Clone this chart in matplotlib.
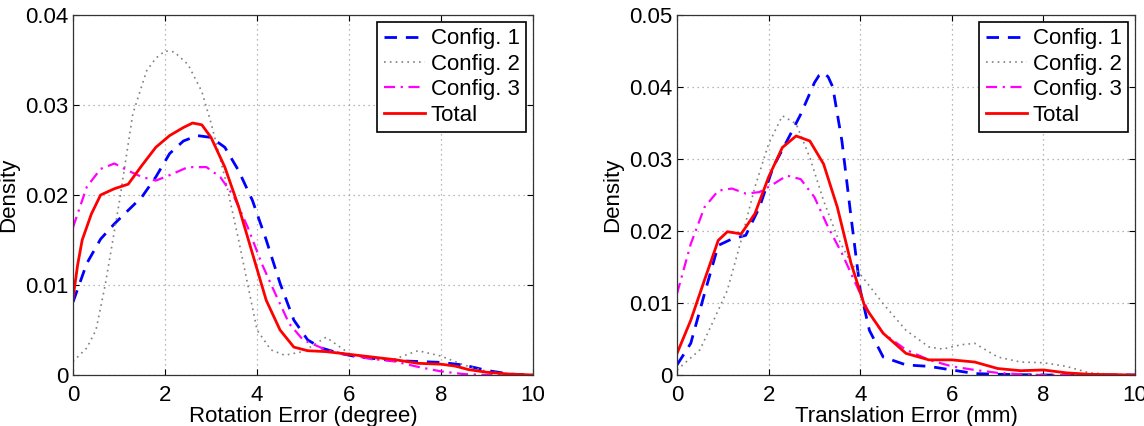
import numpy as np
import matplotlib
matplotlib.use("Agg")
import matplotlib.pyplot as plt

plt.rcParams['font.family'] = ['Liberation Sans', 'DejaVu Sans']

# ---- rotation error densities (left panel) ----
rot_x1 = [0, 0.3, 0.6, 0.9, 1.2, 1.5, 1.8, 2.1, 2.4, 2.7, 3.0, 3.3, 3.6, 3.9, 4.2, 4.5, 4.8, 5.1, 5.4, 5.8, 6.2, 7.0, 7.5, 8.0, 8.5, 9.0, 9.5, 10]
rot_c1 = [0.0081, 0.0124, 0.0151, 0.0168, 0.0183, 0.0198, 0.0220, 0.0246, 0.0260, 0.0266, 0.0264, 0.0253, 0.0227, 0.0194, 0.0150, 0.0102, 0.0061, 0.0039, 0.0030, 0.0024, 0.0020, 0.0016, 0.0015, 0.0014, 0.0011, 0.0005, 0.0001, 0]

rot_x2 = [0, 0.3, 0.5, 0.7, 1.0, 1.3, 1.6, 1.8, 2.0, 2.2, 2.5, 2.8, 3.0, 3.3, 3.6, 4.0, 4.3, 4.6, 5.0, 5.5, 6.0, 6.5, 7.0, 7.5, 8.0, 8.5, 9.0, 9.5, 10]
rot_c2 = [0.0015, 0.0030, 0.0050, 0.0100, 0.0190, 0.0290, 0.0338, 0.0352, 0.0360, 0.0359, 0.0345, 0.0315, 0.0280, 0.0220, 0.0150, 0.0050, 0.0028, 0.0022, 0.0026, 0.0042, 0.0024, 0.0017, 0.0018, 0.0027, 0.0021, 0.0011, 0.0004, 0.0001, 0]

rot_x3 = [0, 0.3, 0.6, 0.9, 1.2, 1.5, 1.8, 2.1, 2.5, 2.9, 3.2, 3.5, 3.8, 4.1, 4.4, 4.7, 5.0, 5.5, 6.0, 6.5, 7.0, 7.5, 8.0, 8.5, 9.0, 10]
rot_c3 = [0.0164, 0.0209, 0.0229, 0.0235, 0.0227, 0.0220, 0.0216, 0.0222, 0.0231, 0.0231, 0.0220, 0.0198, 0.0164, 0.0124, 0.0090, 0.0057, 0.0039, 0.0028, 0.0022, 0.0018, 0.0015, 0.0009, 0.0004, 0.0001, 0, 0]

rot_xt = [0, 0.1, 0.2, 0.4, 0.6, 0.9, 1.2, 1.5, 1.8, 2.1, 2.4, 2.6, 2.8, 3.0, 3.3, 3.6, 3.9, 4.2, 4.5, 4.8, 5.1, 5.5, 6.0, 6.5, 7.0, 7.5, 8.0, 8.3, 8.6, 9.0, 9.5, 10]
rot_tot = [0.0085, 0.0122, 0.0150, 0.0179, 0.0200, 0.0207, 0.0212, 0.0233, 0.0253, 0.0266, 0.0275, 0.0280, 0.0278, 0.0264, 0.0231, 0.0187, 0.0135, 0.0083, 0.0050, 0.0031, 0.0027, 0.0026, 0.0023, 0.0020, 0.0017, 0.0013, 0.0012, 0.0010, 0.0006, 0.0003, 0.0001, 0]

# ---- translation error densities (right panel) ----
tr_x1 = [0, 0.3, 0.6, 0.9, 1.2, 1.5, 1.8, 2.1, 2.4, 2.7, 3.0, 3.1, 3.2, 3.3, 3.4, 3.6, 3.8, 4.0, 4.2, 4.5, 5.0, 5.5, 6.0, 6.5, 7.0, 8.0, 10]
tr_c1 = [0.0014, 0.0044, 0.0113, 0.0180, 0.0189, 0.0194, 0.0233, 0.0289, 0.0325, 0.0362, 0.0406, 0.0416, 0.0420, 0.0414, 0.0400, 0.0325, 0.0219, 0.0118, 0.0062, 0.0025, 0.0014, 0.0012, 0.0007, 0.0002, 0.0001, 0, 0]

tr_x2 = [0, 0.5, 0.8, 1.1, 1.4, 1.7, 2.0, 2.3, 2.6, 2.9, 3.2, 3.5, 3.8, 4.1, 4.5, 5.0, 5.5, 5.8, 6.2, 6.5, 7.0, 7.5, 8.0, 8.5, 9.0, 9.5, 10]
tr_c2 = [0.0007, 0.0035, 0.0076, 0.0118, 0.0187, 0.0261, 0.0321, 0.0360, 0.0349, 0.0302, 0.0242, 0.0192, 0.0155, 0.0132, 0.0099, 0.0062, 0.0039, 0.0036, 0.0042, 0.0044, 0.0025, 0.0018, 0.0017, 0.0012, 0.0003, 0.0001, 0]

tr_x3 = [0, 0.3, 0.6, 0.9, 1.2, 1.5, 1.8, 2.1, 2.4, 2.7, 3.0, 3.3, 3.6, 3.9, 4.2, 4.5, 5.0, 5.5, 6.0, 6.5, 7.0, 7.5, 8.0, 10]
tr_c3 = [0.0113, 0.0182, 0.0233, 0.0256, 0.0259, 0.0252, 0.0254, 0.0265, 0.0277, 0.0272, 0.0247, 0.0205, 0.0169, 0.0127, 0.0085, 0.0058, 0.0035, 0.0021, 0.0012, 0.0007, 0.0003, 0.0001, 0, 0]

tr_xt = [0, 0.3, 0.6, 0.9, 1.1, 1.4, 1.7, 2.0, 2.3, 2.6, 2.9, 3.2, 3.5, 3.8, 4.1, 4.5, 5.0, 5.5, 6.0, 6.5, 7.0, 7.5, 8.0, 8.5, 9.0, 10]
tr_tot = [0.0030, 0.0076, 0.0132, 0.0187, 0.0199, 0.0196, 0.0224, 0.0275, 0.0316, 0.0332, 0.0325, 0.0293, 0.0233, 0.0155, 0.0095, 0.0058, 0.0030, 0.0021, 0.0021, 0.0018, 0.0009, 0.0006, 0.0007, 0.0003, 0.0001, 0]

labels = ['Config. 1', 'Config. 2', 'Config. 3', 'Total']
xticks = [0, 2, 4, 6, 8, 10]

fig = plt.figure(figsize=(11.44, 4.26), dpi=100)
ax1 = fig.add_axes([0.0638, 0.1197, 0.4022, 0.8451])
ax2 = fig.add_axes([0.5918, 0.1197, 0.4004, 0.8451])


def draw(ax, series, ymax, xlabel):
    (x1, c1), (x2, c2), (x3, c3), (xt, tot) = series
    ax.plot(x1, c1, color='#0000ff', ls=(0, (4.5, 3.2)), lw=2.0, label=labels[0])
    ax.plot(x2, c2, color='#808080', ls=(0, (1, 2.5)), lw=1.2, label=labels[1])
    ax.plot(x3, c3, color='#ff00ff', ls=(0, (5, 2.5, 1, 2.5)), lw=1.6, label=labels[2])
    ax.plot(xt, tot, color='#ff0000', ls='-', lw=2.0, label=labels[3])
    ax.set_xlim(0, 10)
    ax.set_ylim(0, ymax)
    ax.set_xticks(xticks)
    ax.set_yticks(np.arange(0, ymax + 1e-9, 0.01))
    ax.set_yticklabels(['0'] + ['%.2f' % v for v in np.arange(0.01, ymax + 1e-9, 0.01)])
    ax.grid(True, color='#a0a0a0', ls=(0, (1, 3)), lw=0.9)
    ax.tick_params(direction='in', labelsize=16, length=4, top=True, right=True)
    ax.tick_params(axis='x', pad=7)
    ax.tick_params(axis='y', pad=3.5)
    for s in ax.spines.values():
        s.set_linewidth(0.9)
        s.set_color('#333333')
    ax.set_xlabel(xlabel, fontsize=16, labelpad=0)
    ax.set_ylabel('Density', fontsize=16, labelpad=4)
    leg = ax.legend(loc='upper right', fontsize=16, fancybox=False, framealpha=1,
                    edgecolor='black', handlelength=1.85, handletextpad=0.27,
                    borderpad=0.3, labelspacing=0.2, borderaxespad=0.3)
    leg.get_frame().set_linewidth(1.2)


draw(ax1, [(rot_x1, rot_c1), (rot_x2, rot_c2), (rot_x3, rot_c3), (rot_xt, rot_tot)],
     0.04, 'Rotation Error (degree)')
draw(ax2, [(tr_x1, tr_c1), (tr_x2, tr_c2), (tr_x3, tr_c3), (tr_xt, tr_tot)],
     0.05, 'Translation Error (mm)')

fig.savefig('out.png', dpi=100)
